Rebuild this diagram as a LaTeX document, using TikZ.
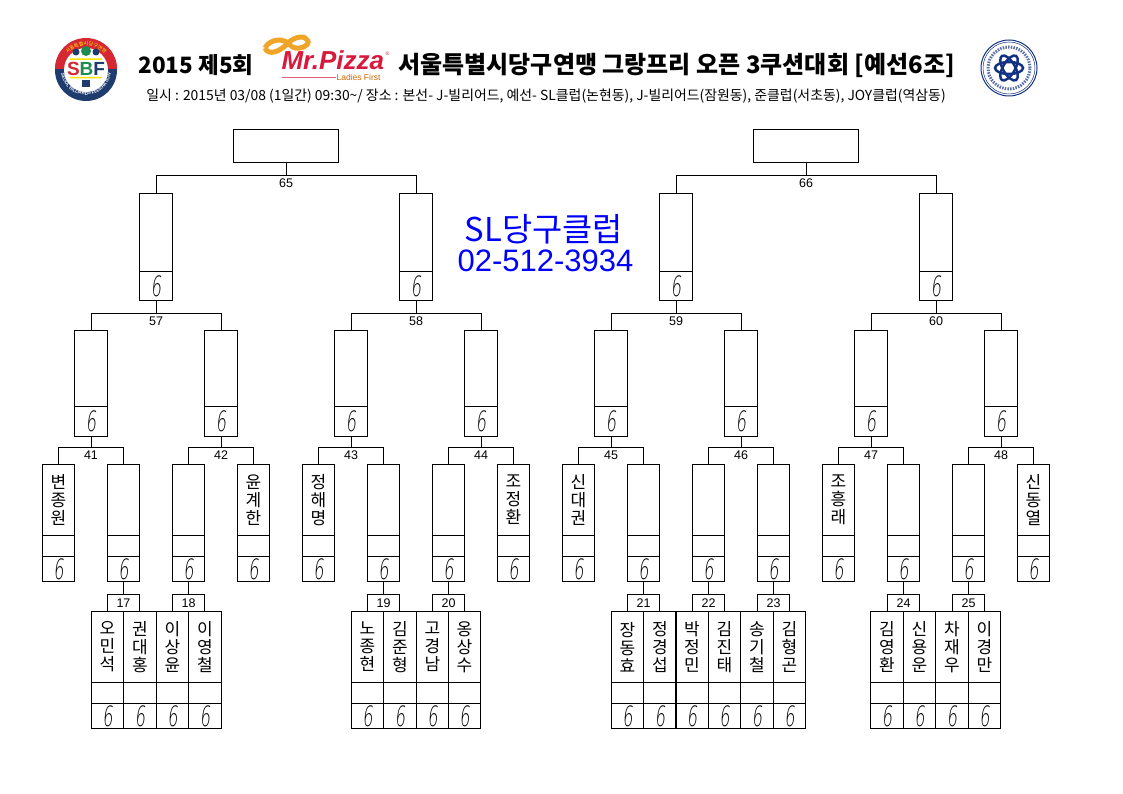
\documentclass[tikz,border=0pt]{standalone}
\usepackage{fontspec}
\setmainfont{Noto Sans CJK KR}
\newfontfamily\latinfont{Liberation Sans}
\newfontfamily\thinfont[FakeSlant=0.18]{DejaVu Sans ExtraLight}
\usetikzlibrary{positioning,decorations.text}
\definecolor{sbfred}{RGB}{214,40,50}
\definecolor{sbfnavy}{RGB}{30,60,110}
\definecolor{sbfgreen}{RGB}{30,140,80}
\definecolor{pizzared}{RGB}{215,25,60}
\definecolor{pizzaorange}{RGB}{240,165,40}
\definecolor{atomblue}{RGB}{20,50,130}
\newcommand{\six}{\scalebox{.58}[1]{\thinfont\fontsize{28}{28}\selectfont 6}}
\tikzset{
  partbox/.style={draw,line width=1pt,outer sep=0pt,inner sep=0pt,minimum width=32.5pt},
  namebox/.style={partbox,anchor=north,minimum height=71pt,align=center,
    font=\fontsize{17}{18}\selectfont},
  blankbox/.style={partbox,minimum height=21pt},
  scorebox/.style={partbox,minimum height=25pt},
  quarterbox/.style={partbox,anchor=north,minimum width=33pt,minimum height=76pt},
  quarterscore/.style={partbox,minimum width=33pt,minimum height=30pt},
  semibox/.style={partbox,anchor=north,minimum width=33pt,minimum height=78pt},
  semiscore/.style={partbox,minimum width=33pt,minimum height=29pt},
  finalbox/.style={partbox,anchor=north,minimum width=105pt,minimum height=33pt},
  matchbox/.style={partbox,minimum width=32pt,minimum height=17pt,font=\latinfont\fontsize{12.5}{13}\selectfont},
  numlabel/.style={inner sep=0pt,font=\latinfont\fontsize{12.5}{13}\selectfont},
  phone/.style={inner sep=0pt,text=blue}
}
\begin{document}
\begin{tikzpicture}[x=1pt,y=-1pt,line width=1pt]
\useasboundingbox (0,0) rectangle (1123,794);
% header
\node[inner sep=0pt,anchor=west,font=\bfseries\fontsize{22.5}{23}\selectfont] (year) at (138,65) {2015 제5회};
\node[inner sep=0pt,anchor=west,font=\bfseries\fontsize{24}{24}\selectfont] (title) at (398,65.5) {서울특별시당구연맹 그랑프리 오픈 3쿠션대회 [예선6조]};
\node[inner sep=0pt,font=\fontsize{13.9}{14}\selectfont] (info) at (546,96) {일시 : 2015년 03/08 (1일간) 09:30\textasciitilde/ 장소 : 본선- J-빌리어드, 예선- SL클럽(논현동), J-빌리어드(잠원동), 준클럽(서초동), JOY클럽(역삼동)};
\node[phone,font=\fontsize{32.8}{33}\selectfont] (club) at (544,229) {SL당구클럽};
\node[phone,font=\latinfont\fontsize{31}{32}\selectfont] (tel) at (545.5,261) {02-512-3934};
% left emblem
\begin{scope}[shift={(86,70)},y=1pt]
\fill[sbfnavy] (0,0) circle (31);
\fill[sbfred] (-31,1) arc (180:0:31) -- cycle;
\fill[white] (0,0) circle (22);
\path[decorate,decoration={text along path,text align=center,text color=white,
  text={|\latinfont\bfseries\fontsize{4.5}{5}\selectfont|SEOUL BILLIARDS FEDERATION}}]
  (185:25) arc (185:355:25);
\path[decorate,decoration={text along path,text align=center,text color=yellow,
  text={|\fontsize{5}{6}\selectfont|서울특별시당구연맹}}]
  (170:24.5) arc (170:10:24.5);
\fill[sbfgreen] (0,19) circle (5);
\fill[sbfnavy] (-10,18) circle (3.5) (10,18) circle (3.5);
\fill[yellow!85!orange] (-16,11.5) rectangle (16,10) (-16,-7) rectangle (16,-8.5);
\node[inner sep=0pt,font=\latinfont\bfseries\fontsize{19}{19}\selectfont] (sbf) at (0,1.5)
  {\textcolor{sbfred}{S}\textcolor{sbfgreen}{B}\textcolor{sbfnavy}{F}};
\fill[sbfnavy] (-4,-10) rectangle (4,-17);
\end{scope}
% pizza logo
\draw[pizzaorange,line width=5pt,line join=round] (265,48) .. controls (270,38) and (285,38) .. (290,45)
  .. controls (296,52) and (310,46) .. (308,41) .. controls (306,35) and (295,36) .. (288,43)
  .. controls (280,52) and (268,56) .. (265,48);
\node[inner sep=0pt,anchor=west,text=pizzared,font=\latinfont\bfseries\itshape\fontsize{26}{26}\selectfont] (pizza) at (281,60.5) {Mr.Pizza};
\node[inner sep=0pt,text=pizzared,font=\latinfont\fontsize{5}{5}\selectfont,right=0.5pt of pizza.north east,yshift=-3pt] (mark) {\textregistered};
\node[inner sep=0pt,anchor=east,text=orange!80!black,font=\latinfont\fontsize{8.5}{9}\selectfont] (ladies) at (381,77.5) {Ladies First};
\draw[pizzared!70,line width=.6pt] (282,77.5) -- (ladies.west);
% right emblem
\begin{scope}[shift={(1009,68)},y=1pt]
\draw[atomblue,line width=1pt] (0,0) circle (28);
\draw[atomblue,line width=.5pt] (0,0) circle (26);
\draw[atomblue!70,line width=3pt,dash pattern=on 1.5pt off 1.2pt] (0,0) circle (21);
\foreach \ang in {0,60,120}
  \draw[atomblue,line width=2.5pt,rotate=\ang] (0,0) ellipse (14 and 6);
\end{scope}
\begin{scope}[shift={(.5,.5)}]
% bottom row
\foreach \id/\cx/\who in {p1/107/오\\민\\석,p2/139.5/권\\대\\홍,p3/172/이\\상\\윤,p4/204.5/이\\영\\철,
  p5/367/노\\종\\현,p6/399.5/김\\준\\형,p7/432/고\\경\\남,p8/464/옹\\상\\수,
  p9/627/장\\동\\효,p10/659.5/정\\경\\섭,p11/691.5/박\\정\\민,p12/724/김\\진\\태,p13/756.5/송\\기\\철,p14/789/김\\형\\곤,
  p15/886.5/김\\영\\환,p16/919/신\\용\\운,p17/951.5/차\\재\\우,p18/984/이\\경\\만}{
  \node[namebox] (n\id) at (\cx,611) {\who};
  \node[blankbox,below=0pt of n\id] (b\id) {};
  \node[scorebox,below=0pt of b\id] (s\id) {\six};
}
% third round
\foreach \id/\cx/\who in {r1/58/변\\종\\원,r2/123/,r3/188/,r4/253/윤\\계\\한,
  r5/318/정\\해\\명,r6/383/,r7/448/,r8/513/조\\정\\환,
  r9/578/신\\대\\권,r10/643/,r11/708/,r12/773/,
  r13/838/조\\흥\\래,r14/903/,r15/968/,r16/1033/신\\동\\열}{
  \node[namebox] (n\id) at (\cx,464) {\who};
  \node[blankbox,below=0pt of n\id] (b\id) {};
  \node[scorebox,below=0pt of b\id] (s\id) {\six};
}
% quarter round
\foreach \id/\cx in {q1/90.5,q2/220.5,q3/350.5,q4/480.5,q5/610.5,q6/740.5,q7/870.5,q8/1000.5}{
  \node[quarterbox] (n\id) at (\cx,330) {};
  \node[quarterscore,below=0pt of n\id] (s\id) {\six};
}
% semi round
\foreach \id/\cx in {a1/155.5,a2/415.5,a3/675.5,a4/935.5}{
  \node[semibox] (n\id) at (\cx,193) {};
  \node[semiscore,below=0pt of n\id] (s\id) {\six};
}
\node[finalbox] (sf1) at (285.5,129) {};
\node[finalbox] (sf2) at (805.5,129) {};
% small match boxes
\foreach \num/\up in {17/r2,18/r3,19/r6,20/r7,21/r10,22/r11,23/r12,24/r14,25/r15}{
  \node[matchbox,below=13pt of s\up] (g\num) {\num};
  \draw (s\up) -- (g\num);
}
% connectors
\foreach \num/\up/\lo/\ro/\gap in {41/q1/r1/r2/11,42/q2/r3/r4/11,43/q3/r5/r6/11,44/q4/r7/r8/11,
  45/q5/r9/r10/11,46/q6/r11/r12/11,47/q7/r13/r14/11,48/q8/r15/r16/11,
  57/a1/q1/q2/13,58/a2/q3/q4/13,59/a3/q5/q6/13,60/a4/q7/q8/13,
  65/f1/a1/a2/13,66/f2/a3/a4/13}{
  \path (s\up.south) ++(0,\gap) coordinate (j\num);
  \draw (s\up.south) -- (j\num);
  \draw (n\lo.north) |- (j\num) -| (n\ro.north);
  \node[numlabel,below=3pt of j\num] (l\num) {\num};
}
\end{scope}
\end{tikzpicture}
\end{document}
